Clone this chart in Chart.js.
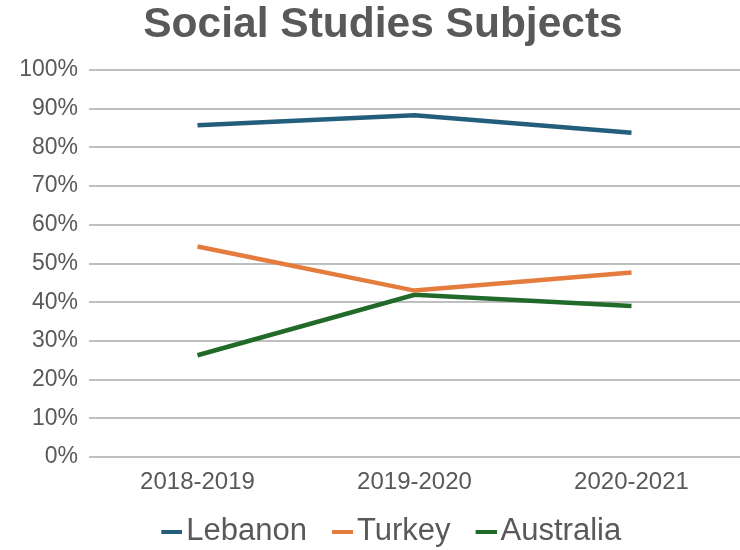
<!DOCTYPE html>
<html>
<head>
<meta charset="utf-8">
<script src="https://cdn.jsdelivr.net/npm/chart.js@4/dist/chart.umd.min.js"></script>
<style>
  html, body { margin: 0; padding: 0; background: #fff; overflow: hidden; }
  #wrap { width: 740px; height: 550px; }
</style>
</head>
<body>
<div id="wrap"><canvas id="chart"></canvas></div>
<script>
// School years on the x axis
const years = ['2018-2019', '2019-2020', '2020-2021'];

// Share of students per country (%)
const lebanon = [85.7, 88.3, 83.8];
const turkey = [54.4, 43.0, 47.7];
const australia = [26.3, 41.9, 39.0];

const textGrey = '#595959';
const font = 'Arial, "Liberation Sans", sans-serif';

// Legend swatch geometry: a short thick dash sitting just left of the label
const LEGEND_FONT = 31;
const BOX_W = 26;          // legend box width reserved by Chart.js
const SWATCH_W = 21;
const SWATCH_H = 4;
const SWATCH_GAP = 4;      // space between dash and label text

function legendSwatch(color) {
  // The image is centred on the box, so widen it to reach up to the text
  const w = BOX_W + LEGEND_FONT - 2 * SWATCH_GAP;
  const c = document.createElement('canvas');
  c.width = w;
  c.height = SWATCH_H;
  const g = c.getContext('2d');
  g.fillStyle = color;
  g.fillRect(w - SWATCH_W, 0, SWATCH_W, SWATCH_H);
  return c;
}

const seriesStyle = (color) => ({
  borderColor: color,
  backgroundColor: color,
  borderWidth: 4.5,
  pointRadius: 0,
  pointHoverRadius: 0,
  pointStyle: legendSwatch(color),
  tension: 0,
  borderCapStyle: 'butt',
  borderJoinStyle: 'miter'
});

new Chart(document.getElementById('chart'), {
  type: 'line',
  data: {
    labels: years,
    datasets: [
      Object.assign({ label: 'Lebanon', data: lebanon }, seriesStyle('#235e7c')),
      Object.assign({ label: 'Turkey', data: turkey }, seriesStyle('#e47c3e')),
      Object.assign({ label: 'Australia', data: australia }, seriesStyle('#216a2a'))
    ]
  },
  options: {
    responsive: true,
    maintainAspectRatio: false,
    animation: false,
    // the plot runs slightly past the right edge of the canvas
    layout: { padding: { left: 17, right: -9, top: 0, bottom: -7 } },
    plugins: {
      title: {
        display: true,
        text: 'Social Studies Subjects',
        color: textGrey,
        font: { family: font, size: 42.5, weight: 'bold' },
        padding: { top: 0, bottom: 19 }
      },
      legend: {
        position: 'bottom',
        labels: {
          color: textGrey,
          font: { family: font, size: LEGEND_FONT },
          usePointStyle: true,
          pointStyleWidth: BOX_W,
          padding: 8.5
        }
      },
      tooltip: { enabled: false }
    },
    scales: {
      x: {
        offset: true,
        grid: { display: false, drawTicks: false },
        border: { display: false },
        ticks: {
          color: textGrey,
          font: { family: font, size: 24 },
          padding: 10.5
        },
        afterFit: (scale) => { scale.height = 50.5; }
      },
      y: {
        min: 0,
        max: 100,
        grid: { color: '#bfbfbf', lineWidth: 2, drawTicks: false },
        border: { display: false },
        ticks: {
          stepSize: 10,
          color: textGrey,
          font: { family: font, size: 23 },
          padding: 11,
          callback: v => v + '%'
        },
        afterFit: (scale) => { scale.width = 72; }
      }
    }
  }
});
</script>
</body>
</html>
